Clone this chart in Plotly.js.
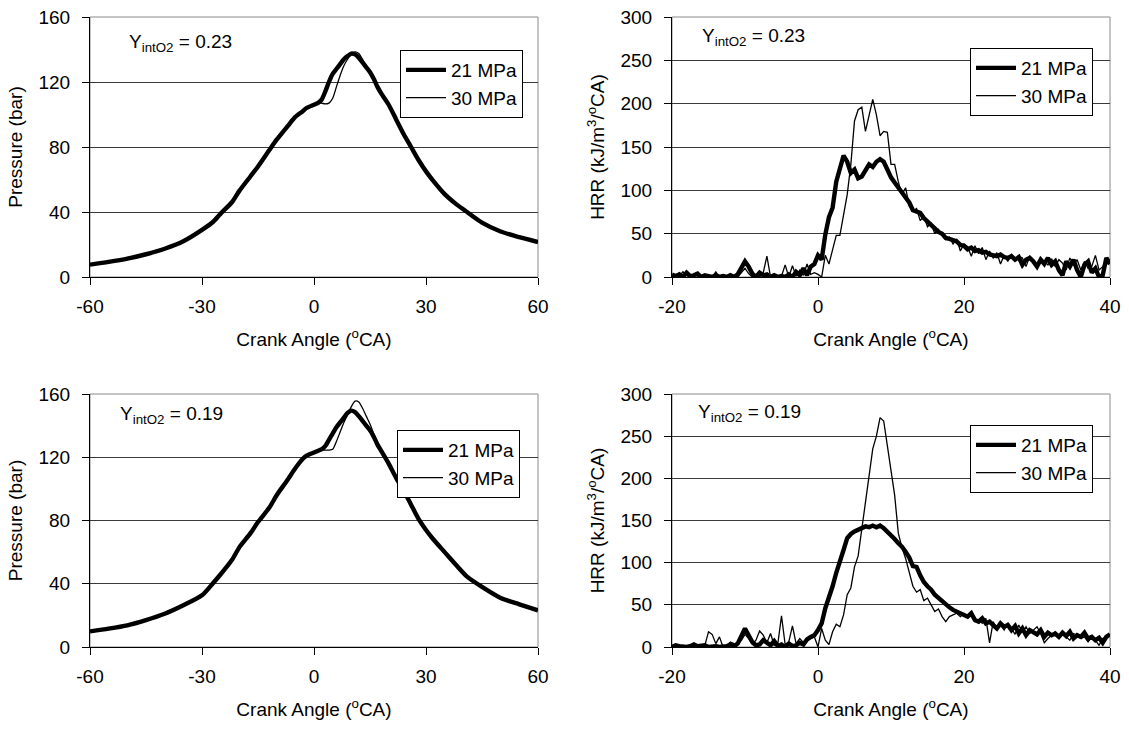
<!DOCTYPE html>
<html>
<head>
<meta charset="utf-8">
<script src="https://cdn.plot.ly/plotly-3.0.1.min.js"></script>
<style>html,body{margin:0;padding:0;background:#fff;}#chart{width:1129px;height:731px;}</style>
</head>
<body>
<div id="chart"></div>
<script>
// ---------- Pressure data (crank angle in degCA, pressure in bar) ----------
const pAngle = [-60,-55,-50,-45,-40,-35,-30,-27,-25,-22,-20,-17,-15,-12,-10,-7,-5,-3,-2,0,
  1,2,3,4,5,6,7,8,9,10,11,12,13,14,15,16,17,18,20,22,24,26,28,30,32,35,38,41,45,50,55,60];

// Y_intO2 = 0.23
const pTop21 = [7.6,9.3,11.3,14,17.4,22,29,34,39,46,53,62,68,78,84.5,93,98.5,102,104,106,
  107,109,114,120,125,128,131,134,136,137.5,137,135,132,129,126,122,117,113,106,97,88,80,72,65,59,51,45,40,33.5,28,24.5,21.5];
const pTop30 = [7.6,9.3,11.3,14,17.4,22,29,34,39,46,53,62,68,78,84.5,93,98.5,102,104,106,
  107,107,106.5,107,110,117,124,130,134,137,138.5,137.5,134,130,126.5,122,117,113,106,97,88,80,72,65,59,51,45,40,33.5,28,24.5,21.5];

// Y_intO2 = 0.19
const pBot21 = [9.9,11.6,13.7,17,21,26.4,32.7,40.5,46,55,63,72,79,88,96,106,113,119,121,123,
  124,125,127,131,135,139,142,145,148,149.5,148.5,146,143,140,137,133,128,124,116,107,99,90,81,74,68,60,52,44.5,38,31,27,23.2];
const pBot30 = [9.9,11.6,13.7,17,21,26.4,32.7,40.5,46,55,63,72,79,88,96,106,113,119,121,123,
  124,124.5,124.5,124.5,125,130,136,142,147,152,155.5,155,151,146,141,135,129,124,116,107,99,90,81,74,68,60,52,44.5,38,31,27,23.2];

// ---------- Heat release rate data (kJ/m3/degCA) ----------
const hAngle = [-20,-19.5,-19,-18.5,-18,-17.5,-17,-16.5,-16,-15.5,
  -15,-14.5,-14,-13.5,-13,-12.5,-12,-11.5,-11,-10.5,
  -10,-9.5,-9,-8.5,-8,-7.5,-7,-6.5,-6,-5.5,
  -5,-4.5,-4,-3.5,-3,-2.5,-2,-1.5,-1,-0.5,
  0,0.5,1,1.5,2,2.5,3,3.5,4,4.5,
  5,5.5,6,6.5,7,7.5,8,8.5,9,9.5,
  10,10.5,11,11.5,12,12.5,13,13.5,14,14.5,
  15,15.5,16,16.5,17,17.5,18,18.5,19,19.5,
  20,20.5,21,21.5,22,22.5,23,23.5,24,24.5,
  25,25.5,26,26.5,27,27.5,28,28.5,29,29.5,
  30,30.5,31,31.5,32,32.5,33,33.5,34,34.5,
  35,35.5,36,36.5,37,37.5,38,38.5,39,39.5,
  40];

const hTop21 = [3,1,3,0,5,1,2,4,0,2,
  1,0,2,0,1,0,2,0,3,10,
  18,12,4,0,5,2,3,0,2,0,
  1,0,3,0,6,2,10,2,12,15,
  25,20,49,69,80,110,126,140,133,120,
  124,114,116,122,130,127,133,136,133,124,
  115,109,103,98,91,86,77,75,74,68,
  64,60,55,52,50,45,44,42,41,37,
  36,32,34,30,31,28,29,26,25,24,
  26,23,22,24,20,23,14,20,22,18,
  12,20,15,22,14,18,8,2,18,12,
  20,8,0,14,18,5,10,0,2,22,
  15];
const hTop30 = [0,3,1,6,2,0,3,1,0,2,
  0,0,6,0,0,1,0,2,0,5,
  10,4,0,2,0,5,24,0,3,0,
  1,14,0,13,1,8,2,15,3,5,
  3,0,25,15,30,48,48,70,95,130,
  180,193,196,168,186,205,187,163,168,167,
  130,130,110,95,103,82,76,79,65,70,
  58,62,50,55,48,43,46,38,44,30,
  38,35,24,36,27,34,20,30,22,28,
  15,25,18,26,20,24,22,12,24,20,
  10,22,18,14,21,12,20,16,8,22,
  14,20,8,18,10,12,25,8,12,18,
  20];

const hBot21 = [0,2,1,0,0,1,3,1,1,2,
  0,1,1,0,0,1,3,1,4,12,
  22,14,6,2,3,8,5,2,7,1,
  3,0,4,1,2,5,3,9,12,14,
  20,28,46,58,72,88,100,115,129,134,
  137,139,140,143,142,144,142,144,141,137,
  133,128,123,119,113,106,96,95,85,77,
  72,68,62,58,54,50,47,44,42,40,
  39,36,40,32,30,34,28,30,26,22,
  28,24,26,20,25,16,22,14,20,18,
  15,20,12,17,14,16,12,17,13,18,
  10,14,12,17,10,12,8,11,5,12,
  15];
const hBot30 = [0,0,1,0,0,3,0,1,0,2,
  18,15,4,12,0,1,6,4,3,8,
  15,10,3,8,19,14,5,16,2,4,
  37,3,6,25,4,10,5,8,10,12,
  0,22,8,3,18,27,24,38,62,70,
  95,108,140,170,198,235,250,272,268,240,
  210,180,135,118,105,88,72,65,68,55,
  58,50,42,45,36,30,36,38,40,36,
  40,36,42,30,32,28,34,5,30,22,
  26,20,28,22,15,26,18,24,16,20,
  24,16,5,10,14,18,12,16,12,8,
  16,14,10,12,6,12,8,2,10,12,
  14];

const seriesNames = ['21 MPa', '30 MPa'];
const panelLabels = ['Y<sub>intO2</sub> = 0.23', 'Y<sub>intO2</sub> = 0.19'];
const pressureTicks = [0, 40, 80, 120, 160];
const hrrTicks = [0, 50, 100, 150, 200, 250, 300];
const pAngleTicks = [-60, -30, 0, 30, 60];
const pAngleText = ['-60', '-30', '0', '30', '60'];
const hAngleTicks = [-20, 0, 20, 40];
const hAngleText = ['-20', '0', '20', '40'];

// ---------- styling ----------
const FONT = 'Liberation Sans, Arial, Helvetica, sans-serif';
const FS = 19;
const thick = {color: '#000', width: 4.4};
const thin = {color: '#000', width: 1.3};
const thickS = {color: '#000', width: 4.4, shape: 'spline', smoothing: 0.7};
const thinS = {color: '#000', width: 1.3, shape: 'spline', smoothing: 0.7};

function tr(x, y, name, line, xa, ya, leg) {
  return {x: x, y: y, name: name, type: 'scatter', mode: 'lines', line: line,
          xaxis: xa, yaxis: ya, legend: leg, hoverinfo: 'skip'};
}

const data = [
  tr(pAngle, pTop21, seriesNames[0], thickS, 'x', 'y', 'legend'),
  tr(pAngle, pTop30, seriesNames[1], thinS, 'x', 'y', 'legend'),
  tr(hAngle, hTop21, seriesNames[0], thick, 'x2', 'y2', 'legend2'),
  tr(hAngle, hTop30, seriesNames[1], thin, 'x2', 'y2', 'legend2'),
  tr(pAngle, pBot21, seriesNames[0], thickS, 'x3', 'y3', 'legend3'),
  tr(pAngle, pBot30, seriesNames[1], thinS, 'x3', 'y3', 'legend3'),
  tr(hAngle, hBot21, seriesNames[0], thick, 'x4', 'y4', 'legend4'),
  tr(hAngle, hBot30, seriesNames[1], thin, 'x4', 'y4', 'legend4')
];

const W = 1129, H = 731;
const colL = [90 / W, 538 / W], colR = [672 / W, 1110 / W];
const rowT = [1 - 277 / H, 1 - 17 / H], rowB = [1 - 647 / H, 1 - 394 / H];

function xax(dom, anchor, range, ticks, text) {
  return {domain: dom, anchor: anchor, range: range, tickmode: 'array', tickvals: ticks, ticktext: text,
    ticks: 'outside', ticklen: 7, tickcolor: '#000', tickwidth: 1,
    showline: true, linecolor: '#000', linewidth: 1, showgrid: false, zeroline: false,
    tickfont: {family: FONT, size: FS, color: '#000'}, ticklabelstandoff: 5,
    title: {text: 'Crank Angle (<sup>o</sup>CA)', font: {family: FONT, size: FS, color: '#000'}, standoff: 16},
    fixedrange: true};
}
function yax(dom, anchor, range, ticks, title) {
  return {domain: dom, anchor: anchor, range: range, tickmode: 'array', tickvals: ticks,
    ticktext: ticks.map(String),
    ticks: 'outside', ticklen: 7, tickcolor: '#000', tickwidth: 1,
    showline: true, linecolor: '#000', linewidth: 1, showgrid: true, gridcolor: '#3a3a3a', gridwidth: 1,
    zeroline: false, tickfont: {family: FONT, size: FS, color: '#000'}, ticklabelstandoff: 8,
    title: {text: title, font: {family: FONT, size: FS, color: '#000'}, standoff: 10},
    fixedrange: true};
}
function legend(px, py) {
  return {x: px / W, y: 1 - py / H, xanchor: 'left', yanchor: 'top', xref: 'paper', yref: 'paper',
    bgcolor: '#fff', bordercolor: '#000', borderwidth: 1,
    font: {family: FONT, size: FS, color: '#000'}, itemwidth: 40, tracegroupgap: 0};
}
function border(xa, ya) {
  return {type: 'rect', xref: xa + ' domain', yref: ya + ' domain', x0: 0, x1: 1, y0: 0, y1: 1,
    line: {color: '#8a8a8a', width: 1}, layer: 'below'};
}
function label(text, px, py) {
  return {text: text, xref: 'paper', yref: 'paper', x: px / W, y: 1 - py / H,
    xanchor: 'left', yanchor: 'middle', showarrow: false,
    font: {family: FONT, size: FS, color: '#000'}};
}

const layout = {
  width: W, height: H, margin: {l: 0, r: 0, t: 0, b: 0},
  paper_bgcolor: '#fff', plot_bgcolor: '#fff',
  font: {family: FONT, size: FS, color: '#000'},
  showlegend: true, hovermode: false,
  xaxis: xax(colL, 'y', [-60, 60], pAngleTicks, pAngleText),
  yaxis: yax(rowT, 'x', [0, 160], pressureTicks, 'Pressure (bar)'),
  xaxis2: xax(colR, 'y2', [-20, 40], hAngleTicks, hAngleText),
  yaxis2: yax(rowT, 'x2', [0, 300], hrrTicks, 'HRR (kJ/m<sup>3</sup>/<sup>o</sup>CA)'),
  xaxis3: xax(colL, 'y3', [-60, 60], pAngleTicks, pAngleText),
  yaxis3: yax(rowB, 'x3', [0, 160], pressureTicks, 'Pressure (bar)'),
  xaxis4: xax(colR, 'y4', [-20, 40], hAngleTicks, hAngleText),
  yaxis4: yax(rowB, 'x4', [0, 300], hrrTicks, 'HRR (kJ/m<sup>3</sup>/<sup>o</sup>CA)'),
  legend: legend(400, 50),
  legend2: legend(970, 48),
  legend3: legend(397, 430),
  legend4: legend(970, 425),
  shapes: [border('x', 'y'), border('x2', 'y2'), border('x3', 'y3'), border('x4', 'y4')],
  annotations: [
    label(panelLabels[0], 127, 43),
    label(panelLabels[0], 700, 37),
    label(panelLabels[1], 118, 415),
    label(panelLabels[1], 696, 413)
  ]
};

Plotly.newPlot('chart', data, layout, {staticPlot: true, displayModeBar: false});
</script>
</body>
</html>
